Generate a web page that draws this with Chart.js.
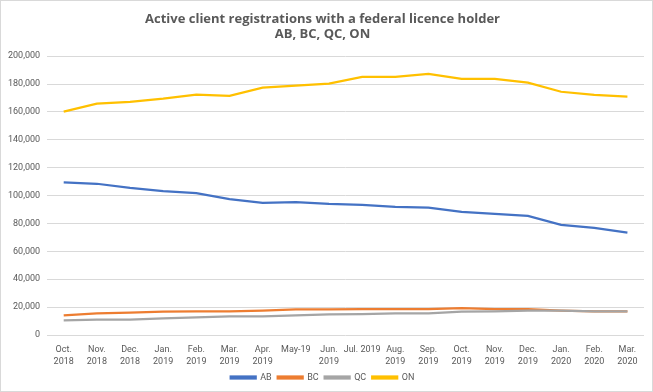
<!DOCTYPE html>
<html>
<head>
<meta charset="utf-8">
<script src="https://cdn.jsdelivr.net/npm/chart.js@4/dist/chart.umd.min.js"></script>
<style>
html,body{margin:0;padding:0;background:#fff}
#wrap{position:absolute;left:0;top:0;width:651px;height:390px;border:1px solid #d9d9d9;overflow:hidden}
</style>
</head>
<body>
<div id="wrap"><canvas id="grafico" width="651" height="391"></canvas></div>
<script>
// ---------------- DADOS ----------------
const meses = [
["Oct.","2018"],["Nov.","2018"],["Dec.","2018"],["Jan.","2019"],["Feb.","2019"],["Mar.","2019"],
["Apr.","2019"],"May-19",["Jun.","2019"],"Jul. 2019",["Aug.","2019"],["Sep.","2019"],
["Oct.","2019"],["Nov.","2019"],["Dec.","2019"],["Jan.","2020"],["Feb.","2020"],["Mar.","2020"]
]

const ab = [109500,108500,105500,103200,101800,97500,94800,95300,94000,93400,92000,91300,88300,86900,85400,79000,76900,73400]
const bc = [14000,15500,16000,16800,17000,17000,17500,18300,18400,18500,18500,18600,19300,18500,18500,17500,17000,17000]
const qc = [10500,11000,11000,12000,12600,13300,13400,14100,14800,14900,15500,15500,16800,16900,17400,17500,17000,17000]
const on = [160200,165900,167300,169500,172400,171600,177500,178900,180400,185200,185200,187300,183800,183800,181000,174500,172300,171000]

const ticksY = [0,20000,40000,60000,80000,100000,120000,140000,160000,180000,200000]

// ---------------- GRAFICO ----------------
const serie = (label, data, cor, ordem) => ({
label:label,
data:data,
borderColor:cor,
backgroundColor:cor,
borderWidth:2.25,
pointRadius:0,
tension:0,
order:ordem
})

const fonteTick = {family:"Roboto",size:9,lineHeight:1.3}

new Chart(document.getElementById("grafico"),{
type:"line",
data:{
labels:meses,
datasets:[
serie("AB",ab,"#4472C4",4),
serie("BC",bc,"#ED7D31",3),
serie("QC",qc,"#A5A5A5",2),
serie("ON",on,"#FFC000",1)
]
},
options:{
responsive:false,
animation:false,
layout:{padding:{left:0,right:8,top:4,bottom:0}},
plugins:{
title:{
display:true,
text:["Active client registrations with a federal licence holder","AB, BC, QC, ON"],
color:"#595959",
font:{family:"Open Sans",size:13,weight:"bold",lineHeight:1.2},
padding:{top:6,bottom:14}
},
legend:{
position:"bottom",
labels:{
sort:(a,b)=>a.datasetIndex-b.datasetIndex,
boxWidth:25,
boxHeight:2,
color:"#595959",
font:{family:"Roboto",size:9},
padding:6
}
},
tooltip:{enabled:false}
},
scales:{
x:{
offset:true,
afterFit:axis=>{axis.height = 32},
grid:{display:false},
border:{display:false},
ticks:{color:"#595959",font:fonteTick,maxRotation:0,autoSkip:false,padding:1}
},
y:{
min:0,
max:200000,
afterBuildTicks:axis=>{axis.ticks = ticksY.map(v=>({value:v}))},
grid:{color:"#d9d9d9",drawTicks:false},
border:{display:false},
ticks:{color:"#595959",font:{family:"Roboto",size:9},padding:7,
callback:v=>v.toLocaleString("en-US")}
}
}
}
})
</script>
</body>
</html>
